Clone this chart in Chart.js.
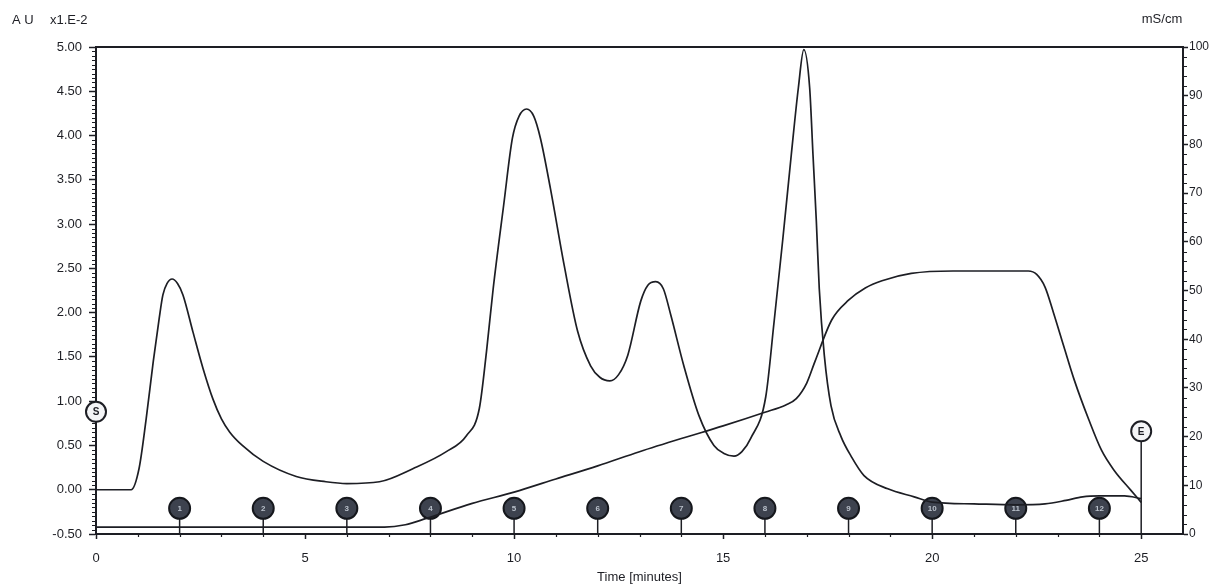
<!DOCTYPE html>
<html>
<head>
<meta charset="utf-8">
<title>Chromatogram</title>
<script src="https://cdn.jsdelivr.net/npm/chart.js@4.4.1/dist/chart.umd.min.js"></script>
<style>
  html, body { margin: 0; padding: 0; background: #fff; }
  #chrom-chart { display: block; }
</style>
</head>
<body>
<canvas id="chrom-chart" width="1219" height="586"></canvas>
<script>
// UV absorbance trace (A U x1.E-2)
const uvTime = [0, 0.84, 1.03, 1.2, 1.37, 1.51, 1.6, 1.7, 1.82, 1.95, 2.08, 2.32, 2.56, 2.8, 3.0, 3.2, 3.5, 4.0, 4.79, 5.5, 6.0, 6.78, 7.59, 8.38, 8.86, 9.17, 9.34, 9.5, 9.75, 9.96, 10.12, 10.3, 10.47, 10.63, 10.87, 11.2, 11.52, 11.83, 12.05, 12.29, 12.5, 12.72, 13.03, 13.2, 13.39, 13.57, 13.75, 14.06, 14.42, 14.78, 15.02, 15.26, 15.45, 15.66, 16.02, 16.22, 16.43, 16.63, 16.8, 16.93, 17.07, 17.15, 17.23, 17.3, 17.42, 17.58, 17.82, 18.06, 18.37, 18.94, 19.57, 20.0, 21.0, 22.0, 22.7, 23.2, 23.6, 24.0, 24.6, 25.0];
const uvAbs = [0.00, 0.00, 0.24, 0.80, 1.45, 1.93, 2.20, 2.33, 2.38, 2.33, 2.20, 1.78, 1.37, 1.02, 0.80, 0.65, 0.50, 0.32, 0.15, 0.09, 0.07, 0.09, 0.24, 0.43, 0.61, 0.92, 1.56, 2.27, 3.21, 3.97, 4.22, 4.30, 4.22, 3.97, 3.40, 2.53, 1.79, 1.40, 1.27, 1.23, 1.30, 1.52, 2.13, 2.31, 2.35, 2.27, 1.97, 1.40, 0.84, 0.50, 0.41, 0.38, 0.43, 0.58, 1.05, 1.90, 2.84, 3.78, 4.54, 4.97, 4.54, 3.78, 3.03, 2.27, 1.52, 0.95, 0.60, 0.38, 0.16, 0.01, -0.08, -0.14, -0.16, -0.17, -0.16, -0.12, -0.08, -0.07, -0.07, -0.10];

// conductivity trace (mS/cm)
const condTime = [0, 6.9, 7.4, 7.9, 9.0, 10.0, 11.0, 12.0, 13.0, 14.0, 15.0, 16.0, 16.5, 16.75, 17.0, 17.2, 17.6, 18.0, 18.4, 18.8, 19.5, 20.5, 22.3, 22.5, 22.7, 22.9, 23.15, 23.4, 23.75, 24.05, 24.35, 24.75, 25.0];
const condValue = [1.4, 1.4, 1.9, 3.2, 6.3, 8.6, 11.3, 14.0, 16.9, 19.6, 22.2, 25.0, 26.5, 27.8, 31.0, 35.5, 44.0, 48.0, 50.5, 52.0, 53.5, 54.0, 54.0, 53.3, 50.7, 45.5, 38.5, 31.6, 23.4, 17.2, 13.1, 9.0, 6.5];

// fraction marks
const fracTime = [2, 4, 6, 8, 10, 12, 14, 16, 18, 20, 22, 24];
const fracLabel = ['1', '2', '3', '4', '5', '6', '7', '8', '9', '10', '11', '12'];
const fracLevel = -0.21;

// start / end events
const eventTime = [0, 25];
const eventLevel = [0.88, 0.66];
const eventLabel = ['S', 'E'];

const INK = '#1d1e24';
const FONT = "'Liberation Sans', Arial, sans-serif";

const toPoints = (xs, ys) => xs.map((t, i) => ({ x: t, y: ys[i] }));

// Extra drawing: stems, minor ticks, marker text, frame top, units
const decorPlugin = {
    id: 'decor',
    beforeDatasetsDraw(chart) {
        const { ctx, chartArea } = chart;
        const x = chart.scales.x;
        const y = chart.scales.y;
        const y2 = chart.scales.y2;
        ctx.save();
        ctx.strokeStyle = INK;

        // top frame line
        ctx.lineWidth = 2;
        ctx.beginPath();
        ctx.moveTo(chartArea.left, chartArea.top);
        ctx.lineTo(chartArea.right, chartArea.top);
        ctx.stroke();

        // minor ticks
        ctx.lineWidth = 1.2;
        ctx.beginPath();
        for (let i = -10; i <= 100; i++) {
            if (i % 10 === 0) continue;
            const py = Math.round(y.getPixelForValue(i * 0.05)) + 0.5;
            ctx.moveTo(chartArea.left - 4, py);
            ctx.lineTo(chartArea.left, py);
        }
        for (let v = 0; v <= 100; v += 2) {
            if (v % 10 === 0) continue;
            const py = Math.round(y2.getPixelForValue(v)) + 0.5;
            ctx.moveTo(chartArea.right, py);
            ctx.lineTo(chartArea.right + 4, py);
        }
        for (let t = 1; t <= 25; t++) {
            if (t % 5 === 0) continue;
            const px = Math.round(x.getPixelForValue(t)) + 0.5;
            ctx.moveTo(px, chartArea.bottom);
            ctx.lineTo(px, chartArea.bottom + 3);
        }
        ctx.stroke();

        // marker stems
        ctx.lineWidth = 1.5;
        fracTime.forEach(t => {
            const px = x.getPixelForValue(t);
            ctx.beginPath();
            ctx.moveTo(px, y.getPixelForValue(fracLevel));
            ctx.lineTo(px, chartArea.bottom);
            ctx.stroke();
        });
        eventTime.forEach((t, i) => {
            const px = x.getPixelForValue(t);
            ctx.beginPath();
            ctx.moveTo(px, y.getPixelForValue(eventLevel[i]));
            ctx.lineTo(px, chartArea.bottom);
            ctx.stroke();
        });
        ctx.restore();
    },
    afterDatasetsDraw(chart) {
        const { ctx } = chart;
        const x = chart.scales.x;
        const y = chart.scales.y;
        ctx.save();
        ctx.textAlign = 'center';
        ctx.textBaseline = 'middle';
        ctx.font = `bold 8px ${FONT}`;
        ctx.fillStyle = '#b9c0ca';
        fracTime.forEach((t, i) => {
            ctx.fillText(fracLabel[i], x.getPixelForValue(t), y.getPixelForValue(fracLevel) + 0.5);
        });
        ctx.font = `bold 10px ${FONT}`;
        ctx.fillStyle = INK;
        eventTime.forEach((t, i) => {
            ctx.fillText(eventLabel[i], x.getPixelForValue(t), y.getPixelForValue(eventLevel[i]) + 0.5);
        });

        // unit labels
        ctx.font = `13px ${FONT}`;
        ctx.textAlign = 'left';
        ctx.fillText('A U', 12, 20);
        ctx.fillText('x1.E-2', 50, 20);
        ctx.textAlign = 'center';
        ctx.fillText('mS/cm', 1162, 19);
        ctx.restore();
    }
};

document.addEventListener('DOMContentLoaded', () => {
    const ctx = document.getElementById('chrom-chart').getContext('2d');
    Chart.defaults.font.family = FONT;
    Chart.defaults.color = INK;

    new Chart(ctx, {
        type: 'line',
        data: {
            datasets: [{
                label: 'UV',
                data: toPoints(uvTime, uvAbs),
                yAxisID: 'y',
                borderColor: INK,
                borderWidth: 1.7,
                pointRadius: 0,
                cubicInterpolationMode: 'monotone',
                fill: false
            }, {
                label: 'Conductivity',
                data: toPoints(condTime, condValue),
                yAxisID: 'y2',
                borderColor: INK,
                borderWidth: 1.7,
                pointRadius: 0,
                cubicInterpolationMode: 'monotone',
                fill: false
            }, {
                type: 'scatter',
                label: 'Fractions',
                data: fracTime.map(t => ({ x: t, y: fracLevel })),
                yAxisID: 'y',
                pointRadius: 10.5,
                pointBackgroundColor: '#3d424e',
                pointBorderColor: '#15171c',
                pointBorderWidth: 2,
                clip: false
            }, {
                type: 'scatter',
                label: 'Events',
                data: toPoints(eventTime, eventLevel),
                yAxisID: 'y',
                pointRadius: 10,
                pointBackgroundColor: '#f4f5f7',
                pointBorderColor: INK,
                pointBorderWidth: 2,
                clip: false
            }]
        },
        options: {
            responsive: false,
            animation: false,
            devicePixelRatio: 1,
            layout: { padding: { top: 47, left: 0, right: 0, bottom: 0 } },
            plugins: {
                legend: { display: false },
                tooltip: { enabled: false }
            },
            scales: {
                x: {
                    type: 'linear',
                    position: 'bottom',
                    min: 0,
                    max: 26,
                    afterFit: scale => { scale.height = 52; },
                    afterBuildTicks: scale => {
                        scale.ticks = scale.ticks.filter(t => t.value % 5 === 0 && t.value <= 25);
                    },
                    ticks: {
                        stepSize: 5,
                        autoSkip: false,
                        maxRotation: 0,
                        padding: 12,
                        font: { size: 13 }
                    },
                    grid: { drawOnChartArea: false, tickLength: 5, color: INK, tickWidth: 1.5 },
                    border: { display: true, color: INK, width: 2 },
                    title: {
                        display: true,
                        text: 'Time [minutes]',
                        font: { size: 13 },
                        padding: { top: 0, bottom: 1 }
                    }
                },
                y: {
                    position: 'left',
                    min: -0.5,
                    max: 5,
                    afterFit: scale => { scale.width = 96; },
                    ticks: {
                        stepSize: 0.5,
                        padding: 7,
                        font: { size: 13 },
                        callback: v => v.toFixed(2)
                    },
                    grid: { drawOnChartArea: false, tickLength: 7, color: INK, tickWidth: 1.5 },
                    border: { display: true, color: INK, width: 2 }
                },
                y2: {
                    position: 'right',
                    min: 0,
                    max: 100,
                    afterFit: scale => { scale.width = 36; },
                    ticks: {
                        stepSize: 10,
                        padding: 1,
                        font: { size: 12 }
                    },
                    grid: { drawOnChartArea: false, tickLength: 5, color: INK, tickWidth: 1.5 },
                    border: { display: true, color: INK, width: 2 }
                }
            }
        },
        plugins: [decorPlugin]
    });
});
</script>
</body>
</html>
